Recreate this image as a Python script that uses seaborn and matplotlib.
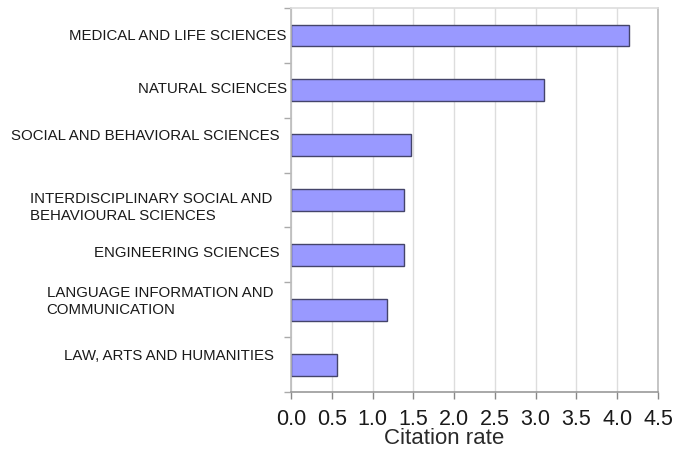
import numpy as np
import pandas as pd
import matplotlib
matplotlib.use("Agg")
import matplotlib.pyplot as plt
import matplotlib.transforms as mtransforms
import seaborn as sns

# data
fields = ["MEDICAL AND LIFE SCIENCES",
          "NATURAL SCIENCES",
          "SOCIAL AND BEHAVIORAL SCIENCES",
          "INTERDISCIPLINARY SOCIAL AND\nBEHAVIOURAL SCIENCES",
          "ENGINEERING SCIENCES",
          "LANGUAGE INFORMATION AND\nCOMMUNICATION",
          "LAW, ARTS AND HUMANITIES"]
citation_rate = [4.14, 3.10, 1.47, 1.39, 1.38, 1.18, 0.56]
x_ticks = [0.0, 0.5, 1.0, 1.5, 2.0, 2.5, 3.0, 3.5, 4.0, 4.5]

# label placement (axes-x, category offset) -- the original labels are a bit irregular
label_x = [-0.011, -0.011, -0.030, -0.052, -0.030, -0.049, -0.046]
label_dy = [0.0, -0.02, -0.16, 0.13, -0.04, -0.15, -0.15]

df = pd.DataFrame({"field": fields, "rate": citation_rate})

sns.set_style("white")
plt.rcParams["font.family"] = ["Liberation Sans", "DejaVu Sans"]

fig = plt.figure(figsize=(6.79, 4.49), dpi=100)
ax = fig.add_axes([0.4286, 0.127, 0.5405, 0.855])

sns.barplot(data=df, x="rate", y="field", orient="h", color="#9999ff",
            saturation=1, width=0.4, edgecolor="#44446a", linewidth=1.0, ax=ax)

ax.set_xlim(0, 4.5)
ax.set_ylim(6.5, -0.5)
ax.set_xticks(x_ticks)
ax.set_xticklabels([f"{t:.1f}" for t in x_ticks], fontsize=15.5, color="#1a1a1a")
ax.set_xlabel("Citation rate", fontsize=16, color="#2a2a2a")
ax.xaxis.set_label_coords(0.417, -0.093)
ax.set_ylabel("")

# category labels drawn by hand
ax.set_yticks(range(len(fields)))
ax.set_yticklabels([])
ax.set_yticks(np.arange(-0.5, len(fields), 1.0), minor=True)
ax.tick_params(axis="y", which="major", left=False, length=0)
ax.tick_params(axis="y", which="minor", left=True, length=5, color="#aaaaaa", width=1)
ax.tick_params(axis="x", which="major", bottom=True, length=5, color="#888888",
               width=1, pad=7)

trans = mtransforms.blended_transform_factory(ax.transAxes, ax.transData)
for i, name in enumerate(fields):
    ax.text(label_x[i], i + label_dy[i], name, transform=trans, ha="right",
            va="center", multialignment="left", fontsize=10.8, color="#1a1a1a",
            linespacing=1.3)

ax.grid(axis="x", color="#dddddd", linewidth=1)
ax.set_axisbelow(True)
ax.spines["left"].set_color("#bbbbbb")
ax.spines["bottom"].set_color("#999999")
ax.spines["top"].set_color("#dddddd")
ax.spines["right"].set_color("#bbbbbb")
for s in ax.spines.values():
    s.set_linewidth(1.2)

fig.savefig("out.png", dpi=100)
